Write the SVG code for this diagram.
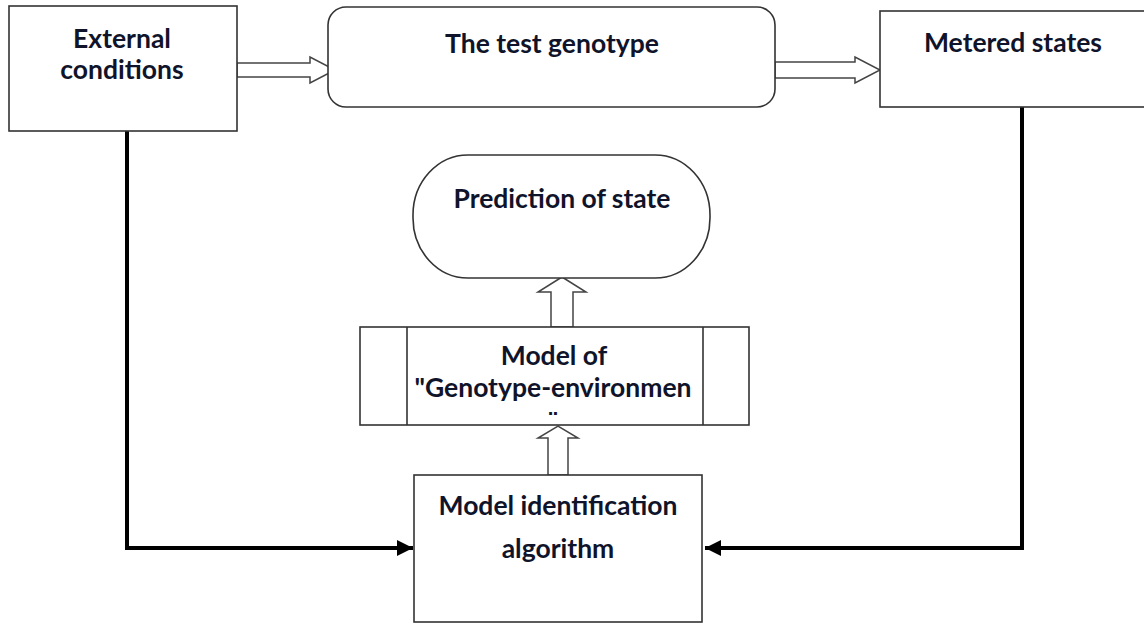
<svg xmlns="http://www.w3.org/2000/svg" width="1144" height="624" viewBox="0 0 1144 624">
  <defs>
    <style>
      .box { fill: #ffffff; stroke: #333333; stroke-width: 1.6; }
      .hollow { fill: #ffffff; stroke: #444444; stroke-width: 1.5; stroke-linejoin: miter; }
      .wire { fill: none; stroke: #000000; stroke-width: 4; }
      .lbl { font-family: Lato, "Liberation Sans", sans-serif; font-weight: bold; font-size: 26.5px; fill: #10142a; text-anchor: middle; }
    </style>
    <marker id="head" markerUnits="userSpaceOnUse" markerWidth="18" markerHeight="18" refX="16" refY="8" orient="auto">
      <path d="M0,0 L16,8 L0,16 Z" fill="#000000"/>
    </marker>
    <clipPath id="modelClip">
      <rect x="407" y="327" width="296" height="88"/>
    </clipPath>
  </defs>

  <!-- thick feedback lines into the identification block -->
  <g id="connectors">
    <path class="wire" d="M127,131 V548 H413" marker-end="url(#head)"/>
    <path class="wire" d="M1022,107 V548 H705" marker-end="url(#head)"/>
    <!-- hollow block arrows -->
    <polygon class="hollow" points="237,63 310,63 310,57 335,70 310,83 310,77 237,77"/>
    <polygon class="hollow" points="775,62 855,62 855,57 880,70 855,83 855,78 775,78"/>
    <polygon class="hollow" points="551,327 551,292 538,292 562,277 586,292 573,292 573,327"/>
    <polygon class="hollow" points="548,475 548,438 538,438 558,426 578,438 568,438 568,475"/>
  </g>

  <g id="external-conditions">
    <rect class="box" x="9" y="6" width="228" height="125"/>
    <text class="lbl" x="122" y="48">External</text>
    <text class="lbl" x="122" y="79">conditions</text>
  </g>

  <g id="test-genotype">
    <rect class="box" x="328" y="7" width="447" height="100" rx="18" ry="18"/>
    <text class="lbl" x="552" y="53">The test genotype</text>
  </g>

  <g id="metered-states">
    <rect class="box" x="880" y="11" width="270" height="96"/>
    <text class="lbl" x="1013" y="52">Metered states</text>
  </g>

  <g id="prediction">
    <rect class="box" x="413" y="155" width="297" height="123" rx="55" ry="60"/>
    <text class="lbl" x="562" y="208">Prediction of state</text>
  </g>

  <g id="model">
    <rect class="box" x="360" y="327" width="389" height="98"/>
    <line class="box" x1="407" y1="327" x2="407" y2="425"/>
    <line class="box" x1="703" y1="327" x2="703" y2="425"/>
    <g clip-path="url(#modelClip)">
      <text class="lbl" x="554" y="365">Model of</text>
      <text class="lbl" x="553" y="397">"Genotype-environmen</text>
      <text class="lbl" x="553" y="431">"</text>
    </g>
  </g>

  <g id="identification">
    <rect class="box" x="414" y="475" width="288" height="147"/>
    <text class="lbl" x="558" y="515">Model identification</text>
    <text class="lbl" x="558" y="558">algorithm</text>
  </g>
</svg>
